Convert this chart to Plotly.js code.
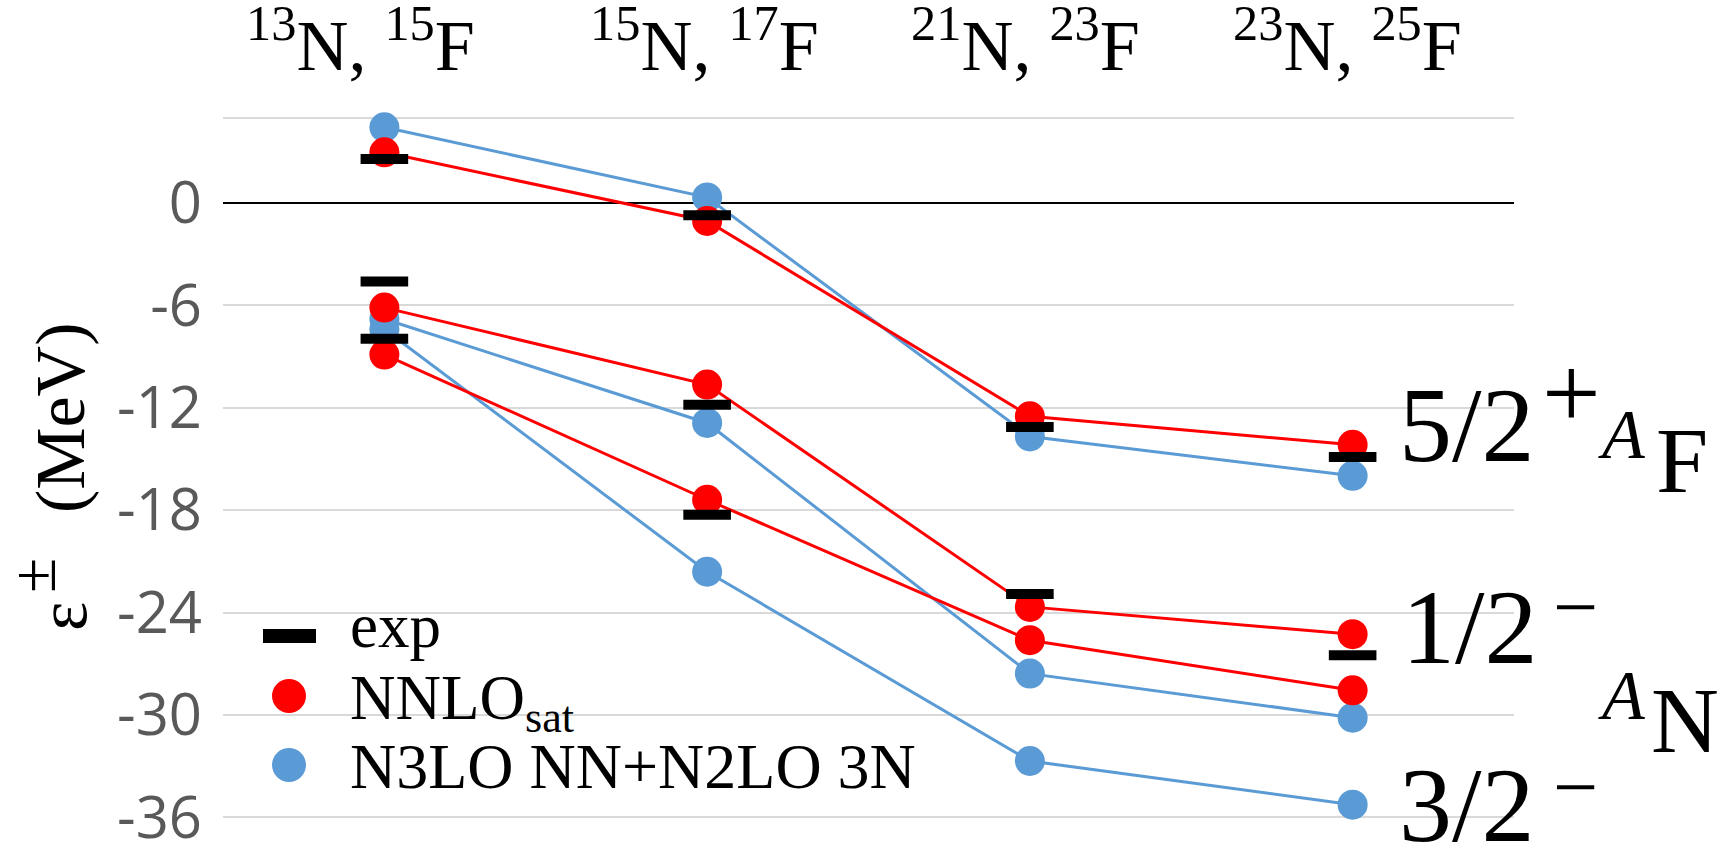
<!DOCTYPE html>
<html>
<head>
<meta charset="utf-8">
<script src="https://cdn.plot.ly/plotly-3.0.1.min.js"></script>
<style>html,body{margin:0;padding:0;background:#fff;}#chart{width:1733px;height:865px;}</style>
</head>
<body>
<div id="chart"></div>
<script>
// ---- data ----
var categories = ['13N, 15F', '15N, 17F', '21N, 23F', '23N, 25F'];
var categoryLabels = ['<sup>13</sup>N, <sup>15</sup>F', '<sup>15</sup>N, <sup>17</sup>F', '<sup>21</sup>N, <sup>23</sup>F', '<sup>23</sup>N, <sup>25</sup>F'];

var nnlosat_52p = [2.97, -1.05, -12.5, -14.17];
var nnlosat_12m = [-6.13, -10.64, -23.67, -25.27];
var nnlosat_32m = [-8.88, -17.39, -25.62, -28.56];

var n3lo_52p = [4.44, 0.33, -13.68, -15.99];
var n3lo_12m = [-6.8, -12.89, -27.58, -30.16];
var n3lo_32m = [-7.4, -21.61, -32.7, -35.26];

var exp_52p = [2.58, -0.71, -13.13, -14.89];
var exp_12m = [-4.6, -11.82, -22.92, -26.5];
var exp_32m = [-7.96, -18.27, null, null];

var yTickVals = [-36, -30, -24, -18, -12, -6, 0, 5];
var yTickText = ['-36', '-30', '-24', '-18', '-12', '-6', '0', ' '];

// ---- layout geometry ----
var W = 1733, H = 865;
var M = {l: 223, r: 219, t: 116, b: 46};
var PW = W - M.l - M.r, PH = H - M.t - M.b;
function px(x) { return (x - M.l) / PW; }
function py(y) { return (H - M.b - y) / PH; }

var RED = '#ff0000', BLUE = '#5b9bd5';
var SERIF = 'Liberation Serif, DejaVu Serif, serif';

function modelTrace(y, color) {
  return {x: categories, y: y, type: 'scatter', mode: 'lines+markers', cliponaxis: false,
    line: {color: color, width: 3}, marker: {color: color, size: 30}, hoverinfo: 'y'};
}
function expTrace(y) {
  return {x: categories, y: y, type: 'scatter', mode: 'markers', cliponaxis: false,
    marker: {symbol: 'line-ew', size: 34, color: '#000', line: {color: '#000', width: 10}}, hoverinfo: 'y'};
}

var data = [
  modelTrace(n3lo_52p, BLUE), modelTrace(n3lo_12m, BLUE), modelTrace(n3lo_32m, BLUE),
  modelTrace(nnlosat_52p, RED), modelTrace(nnlosat_12m, RED), modelTrace(nnlosat_32m, RED),
  expTrace(exp_52p), expTrace(exp_12m), expTrace(exp_32m)
];

var ann = [];
function txt(t, x, y, size, opts) {
  opts = opts || {};
  ann.push(Object.assign({text: t, xref: 'paper', yref: 'paper', x: px(x), y: py(y),
    xanchor: 'center', yanchor: 'middle', showarrow: false,
    font: {family: SERIF, size: size, color: '#000'}}, opts));
}
// category labels at the top
var catShift = [-24, -3, -4, -5];
for (var i = 0; i < categories.length; i++) {
  ann.push({text: categoryLabels[i], xref: 'x', yref: 'paper', x: categories[i], y: py(41),
    xanchor: 'center', yanchor: 'middle', xshift: catShift[i], showarrow: false,
    font: {family: SERIF, size: 72, color: '#000'}});
}
// right-hand state labels
txt('5/2', 1397, 425, 106, {xanchor: 'left'});
txt('+', 1572, 392, 104);
txt('<i>A</i>', 1621, 434, 70);
txt('F', 1682, 460, 94);
txt('1/2', 1400, 627, 106, {xanchor: 'left'});
txt('\u2212', 1575, 607, 80);
txt('<i>A</i>', 1621, 695, 70);
txt('N', 1685, 720, 94);
txt('3/2', 1397, 805, 106, {xanchor: 'left'});
txt('\u2212', 1575, 787, 80);
// y-axis title
txt('(MeV)', 60, 418, 70, {textangle: -90});
txt('\u03b5', 62, 617, 70, {textangle: -90});
txt('\u00b1', 33, 576, 64, {textangle: -90});
// legend text
txt('exp', 348, 626, 63, {xanchor: 'left'});
txt('NNLO<sub>sat</sub>', 348, 702, 63, {xanchor: 'left'});
txt('N3LO NN+N2LO 3N', 348, 766, 64, {xanchor: 'left'});

var shapes = [
  {type: 'rect', xref: 'paper', yref: 'paper', x0: px(263), x1: px(316), y0: py(643), y1: py(629),
    fillcolor: '#000', line: {width: 0}},
  {type: 'circle', xref: 'paper', yref: 'paper', x0: px(272), x1: px(306), y0: py(713), y1: py(679),
    fillcolor: RED, line: {width: 0}},
  {type: 'circle', xref: 'paper', yref: 'paper', x0: px(272), x1: px(306), y0: py(782), y1: py(748),
    fillcolor: BLUE, line: {width: 0}}
];

var layout = {
  width: W, height: H, margin: M,
  paper_bgcolor: '#fff', plot_bgcolor: '#fff',
  showlegend: false,
  xaxis: {type: 'category', range: [-0.5, 3.5], showticklabels: false, showgrid: false,
    zeroline: false, showline: false, ticks: '', fixedrange: true},
  yaxis: {range: [-36.1, 5.1], tickvals: yTickVals, ticktext: yTickText, ticks: '',
    showgrid: true, gridcolor: '#d9d9d9', gridwidth: 2,
    zeroline: true, zerolinecolor: '#000', zerolinewidth: 2, showline: false,
    tickfont: {family: 'Open Sans, sans-serif', size: 58, color: '#595959'},
    ticklabelstandoff: 20, fixedrange: true},
  annotations: ann,
  shapes: shapes
};

Plotly.newPlot('chart', data, layout, {displayModeBar: false, staticPlot: true});
</script>
</body>
</html>
